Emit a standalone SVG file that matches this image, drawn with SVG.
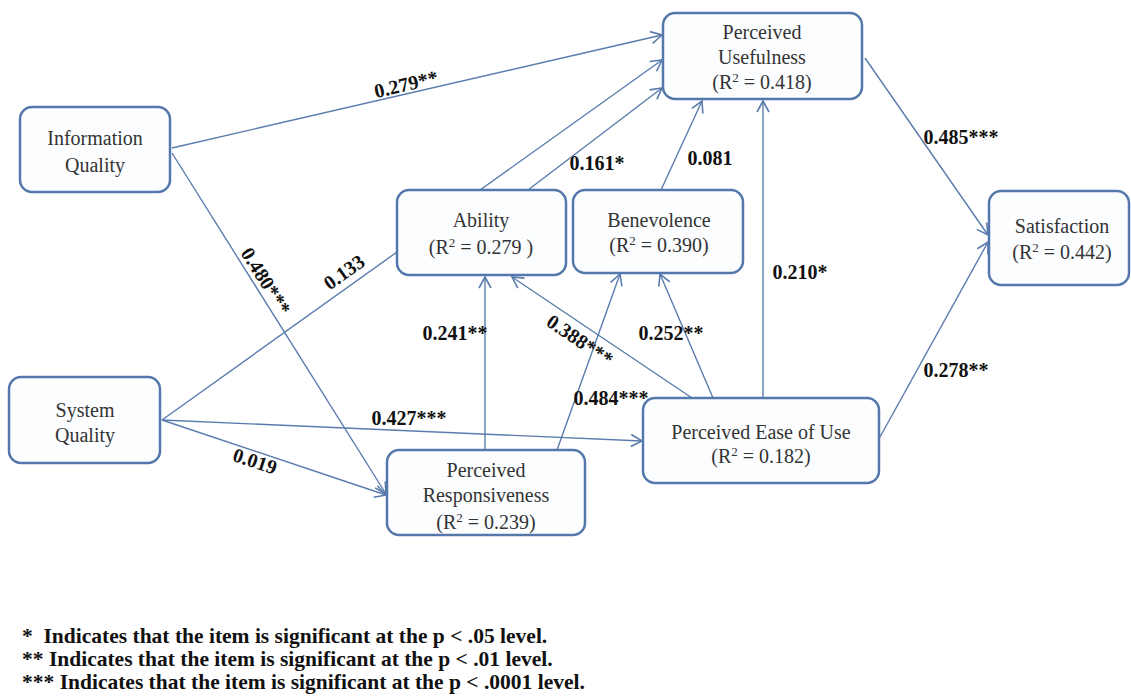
<svg xmlns="http://www.w3.org/2000/svg" width="1131" height="696" viewBox="0 0 1131 696">
<style>
.box{fill:#fbfdff;stroke:#5478ab;stroke-width:2.5}
.nt{font-family:"Liberation Serif","Times New Roman",serif;font-size:20px;fill:#333;text-anchor:middle}
.sup{font-size:13px}
.lbl{font-family:"Liberation Serif","Times New Roman",serif;font-size:20px;font-weight:bold;fill:#111;text-anchor:middle}
.edge{stroke:#5a7bad;stroke-width:1.4;fill:none}
.arr{marker-end:url(#ah)}
.leg{font-family:"Liberation Serif","Times New Roman",serif;font-size:21.5px;font-weight:bold;fill:#111}
</style>
<defs>
<marker id="ah" markerUnits="userSpaceOnUse" markerWidth="14" markerHeight="14" viewBox="0 0 14 14" refX="12" refY="7" orient="auto">
<path d="M1,1 L12,7 L1,13" fill="none" stroke="#5a7bad" stroke-width="1.6"/>
</marker>
</defs>
<rect width="1131" height="696" fill="#ffffff"/>

<g id="connectors">
<line class="edge arr" x1="172" y1="148" x2="662" y2="35"/>
<line class="edge arr" x1="172" y1="153" x2="386" y2="494"/>
<line class="edge" x1="162" y1="420" x2="397" y2="252"/>
<line class="edge arr" x1="162" y1="420" x2="642" y2="441"/>
<line class="edge arr" x1="162" y1="420" x2="386" y2="495"/>
<line class="edge arr" x1="480" y1="190" x2="662" y2="60"/>
<line class="edge arr" x1="528" y1="190" x2="662" y2="88"/>
<line class="edge arr" x1="661" y1="190" x2="702" y2="101"/>
<line class="edge arr" x1="763" y1="398" x2="763" y2="101"/>
<line class="edge arr" x1="865" y1="58" x2="988" y2="235"/>
<line class="edge arr" x1="880" y1="437" x2="988" y2="242"/>
<line class="edge arr" x1="485" y1="450" x2="485" y2="277"/>
<line class="edge arr" x1="557" y1="450" x2="620" y2="274"/>
<line class="edge arr" x1="692" y1="398" x2="512" y2="277"/>
<line class="edge arr" x1="713" y1="398" x2="660" y2="274"/>

<text class="lbl" transform="translate(406,84) rotate(-13)" y="7">0.279**</text>
<text class="lbl" transform="translate(266,281) rotate(57.8)" y="7">0.480***</text>
<text class="lbl" transform="translate(344,272) rotate(-35.6)" y="7">0.133</text>
<text class="lbl" transform="translate(255,461) rotate(18.4)" y="7">0.019</text>
<text class="lbl" transform="translate(580,340) rotate(34)" y="7">0.388***</text>
<text class="lbl" x="597" y="170">0.161*</text>
<text class="lbl" x="710" y="165">0.081</text>
<text class="lbl" x="800" y="279">0.210*</text>
<text class="lbl" x="961" y="144">0.485***</text>
<text class="lbl" x="455" y="340">0.241**</text>
<text class="lbl" x="671" y="340">0.252**</text>
<text class="lbl" x="611" y="405">0.484***</text>
<text class="lbl" x="409" y="425">0.427***</text>
<text class="lbl" x="956" y="377">0.278**</text>
</g>

<g id="information-quality">
<rect class="box" x="20" y="107" width="150" height="85" rx="12"/>
<text class="nt" x="95" y="145">Information</text>
<text class="nt" x="95" y="172">Quality</text>
</g>

<g id="system-quality">
<rect class="box" x="9" y="377" width="151" height="86" rx="12"/>
<text class="nt" x="85" y="417">System</text>
<text class="nt" x="85" y="442">Quality</text>
</g>

<g id="perceived-usefulness">
<rect class="box" x="663" y="13" width="199" height="86" rx="12"/>
<text class="nt" x="762" y="39">Perceived</text>
<text class="nt" x="762" y="64">Usefulness</text>
<text class="nt" x="762" y="89">(R<tspan class="sup" dy="-7">2</tspan><tspan dy="7"> = 0.418)</tspan></text>
</g>

<g id="ability">
<rect class="box" x="397" y="190" width="169" height="85" rx="12"/>
<text class="nt" x="481" y="227">Ability</text>
<text class="nt" x="481" y="254">(R<tspan class="sup" dy="-7">2</tspan><tspan dy="7"> = 0.279 )</tspan></text>
</g>

<g id="benevolence">
<rect class="box" x="573" y="190" width="170" height="83" rx="12"/>
<text class="nt" x="659" y="227">Benevolence</text>
<text class="nt" x="659" y="252">(R<tspan class="sup" dy="-7">2</tspan><tspan dy="7"> = 0.390)</tspan></text>
</g>

<g id="satisfaction">
<rect class="box" x="989" y="191" width="140" height="94" rx="12"/>
<text class="nt" x="1062" y="233">Satisfaction</text>
<text class="nt" x="1062" y="259">(R<tspan class="sup" dy="-7">2</tspan><tspan dy="7"> = 0.442)</tspan></text>
</g>

<g id="perceived-responsiveness">
<rect class="box" x="387" y="450" width="198" height="85" rx="12"/>
<text class="nt" x="486" y="477">Perceived</text>
<text class="nt" x="486" y="502">Responsiveness</text>
<text class="nt" x="486" y="529">(R<tspan class="sup" dy="-7">2</tspan><tspan dy="7"> = 0.239)</tspan></text>
</g>

<g id="perceived-ease-of-use">
<rect class="box" x="643" y="398" width="236" height="85" rx="12"/>
<text class="nt" x="761" y="439">Perceived Ease of Use</text>
<text class="nt" x="761" y="463">(R<tspan class="sup" dy="-7">2</tspan><tspan dy="7"> = 0.182)</tspan></text>
</g>

<g id="legend">
<text class="leg" x="22" y="643" xml:space="preserve">*  Indicates that the item is significant at the p &lt; .05 level.</text>
<text class="leg" x="22" y="666">** Indicates that the item is significant at the p &lt; .01 level.</text>
<text class="leg" x="22" y="689">*** Indicates that the item is significant at the p &lt; .0001 level.</text>
</g>
</svg>
